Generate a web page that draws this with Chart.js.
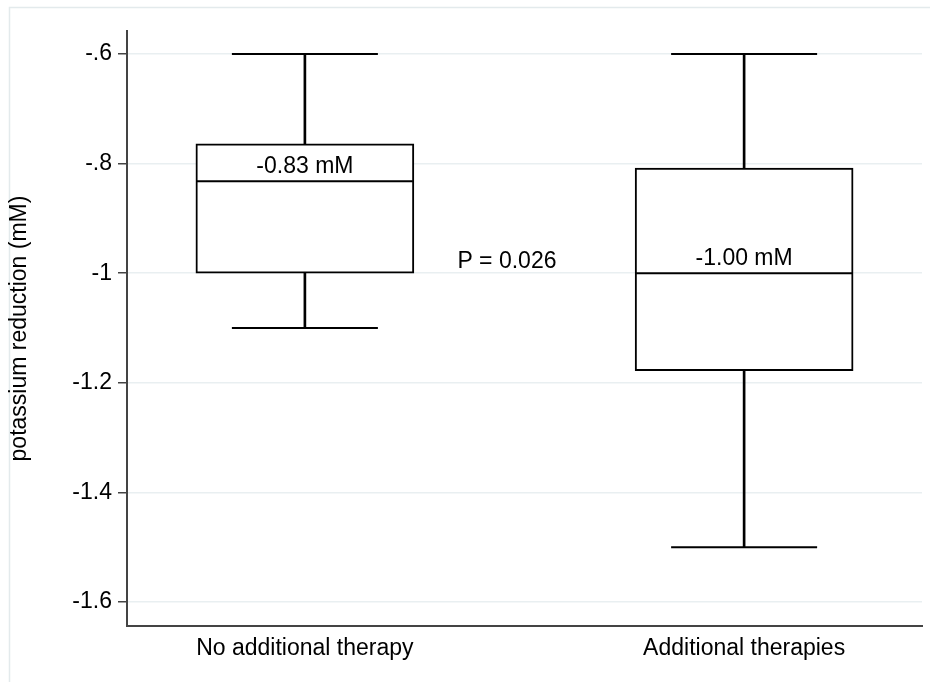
<!DOCTYPE html>
<html>
<head>
<meta charset="utf-8">
<script src="https://cdn.jsdelivr.net/npm/chart.js@4/dist/chart.umd.min.js"></script>
<style>
html,body{margin:0;padding:0;background:#fff;}
#wrap{width:930px;height:682px;position:relative;}
</style>
</head>
<body>
<div id="wrap"><canvas id="c" width="930" height="682"></canvas></div>
<script>
// ---- data ----
const categories = ["No additional therapy", "Additional therapies"];
const whiskerHigh = [-0.6, -0.6];
const q3 = [-0.764, -0.808];
const median = [-0.832, -1.0];
const q1 = [-1.0, -1.178];
const whiskerLow = [-1.1, -1.5];
const medianLabels = ["-0.83 mM", "-1.00 mM"];
const pLabel = "P = 0.026";
const yTicks = [-0.6, -0.8, -1.0, -1.2, -1.4, -1.6];
const yTickLabels = ["-.6", "-.8", "-1", "-1.2", "-1.4", "-1.6"];
const yTitle = "potassium reduction (mM)";

const FONT = "'Liberation Sans', Arial, Helvetica, sans-serif";
const FS = 23;
const xPos = categories.map((c, i) => i + 1);

const annot = {
  id: 'annot',
  beforeDraw(chart) {
    const ctx = chart.ctx;
    ctx.save();
    ctx.fillStyle = '#fff';
    ctx.fillRect(0, 0, chart.width, chart.height);
    ctx.strokeStyle = '#e3eaec';
    ctx.lineWidth = 1.5;
    ctx.beginPath();
    ctx.moveTo(9.5, chart.height);
    ctx.lineTo(9.5, 7.5);
    ctx.lineTo(chart.width, 7.5);
    ctx.stroke();
    ctx.restore();
  },
  afterDatasetsDraw(chart) {
    const ctx = chart.ctx;
    const xs = chart.scales.x, ys = chart.scales.y;
    ctx.save();
    ctx.font = FS + 'px ' + FONT;
    ctx.fillStyle = '#000';
    ctx.textAlign = 'center';
    ctx.textBaseline = 'middle';
    medianLabels.forEach((t, i) => {
      ctx.fillText(t, xs.getPixelForValue(xPos[i]), ys.getPixelForValue(median[i]) - 15);
    });
    // P value placed between the two boxes
    ctx.fillText(pLabel, xs.getPixelForValue(1.46), ys.getPixelForValue(-0.978));
    ctx.restore();
  }
};

const boxStyle = {
  backgroundColor: '#fff', borderColor: '#000', borderWidth: 2,
  borderSkipped: false, barThickness: 218, grouped: false
};
const stemStyle = {
  backgroundColor: '#000', borderWidth: 0, barThickness: 2, grouped: false
};

new Chart(document.getElementById('c'), {
  type: 'bar',
  data: {
    datasets: [
      Object.assign({ label: 'box', order: 1,
        data: xPos.map((x, i) => ({ x: x, y: [q1[i], q3[i]] })) }, boxStyle),
      Object.assign({ label: 'upper whisker', order: 2,
        data: xPos.map((x, i) => ({ x: x, y: [q3[i], whiskerHigh[i]] })) }, stemStyle),
      Object.assign({ label: 'lower whisker', order: 2,
        data: xPos.map((x, i) => ({ x: x, y: [whiskerLow[i], q1[i]] })) }, stemStyle),
      { type: 'scatter', label: 'median', order: 0,
        data: xPos.map((x, i) => ({ x: x, y: median[i] })),
        pointStyle: 'line', pointRadius: 108, pointHoverRadius: 108,
        pointBorderColor: '#000', pointBorderWidth: 2, pointBackgroundColor: '#000' },
      { type: 'scatter', label: 'caps', order: 0,
        data: xPos.map((x, i) => ({ x: x, y: whiskerHigh[i] }))
          .concat(xPos.map((x, i) => ({ x: x, y: whiskerLow[i] }))),
        pointStyle: 'line', pointRadius: 73, pointHoverRadius: 73,
        pointBorderColor: '#000', pointBorderWidth: 2, pointBackgroundColor: '#000' }
    ]
  },
  options: {
    responsive: false,
    animation: false,
    events: [],
    devicePixelRatio: 1,
    layout: { autoPadding: false, padding: { left: 0, top: 31, right: 8, bottom: 0 } },
    plugins: { legend: { display: false }, tooltip: { enabled: false } },
    scales: {
      x: {
        type: 'linear', min: 0.595, max: 2.405, offset: false,
        afterBuildTicks: (s) => { s.ticks = xPos.map(v => ({ value: v })); },
        afterFit: (s) => { s.height = 56; },
        grid: { display: false, drawTicks: false },
        border: { display: true, color: '#444', width: 2 },
        ticks: {
          autoSkip: false, maxRotation: 0, padding: 9, color: '#000',
          font: { family: FONT, size: FS },
          callback: (v, i) => categories[i]
        }
      },
      y: {
        type: 'linear', min: -1.6437, max: -0.558, beginAtZero: false,
        afterBuildTicks: (s) => { s.ticks = yTicks.map(v => ({ value: v })); },
        afterFit: (s) => { s.width = 127; },
        grid: { display: true, drawOnChartArea: true, drawTicks: true,
                color: '#e9eff1', lineWidth: 1.5,
                tickColor: '#444', tickLength: 9, tickWidth: 1.5 },
        border: { display: true, color: '#444', width: 2 },
        ticks: {
          padding: 6, color: '#000', font: { family: FONT, size: FS },
          callback: (v, i) => yTickLabels[i]
        },
        title: {
          display: true, text: yTitle, color: '#000',
          font: { family: FONT, size: FS }, padding: { top: 6, bottom: 0 }
        }
      }
    }
  },
  plugins: [annot]
});
</script>
</body>
</html>
